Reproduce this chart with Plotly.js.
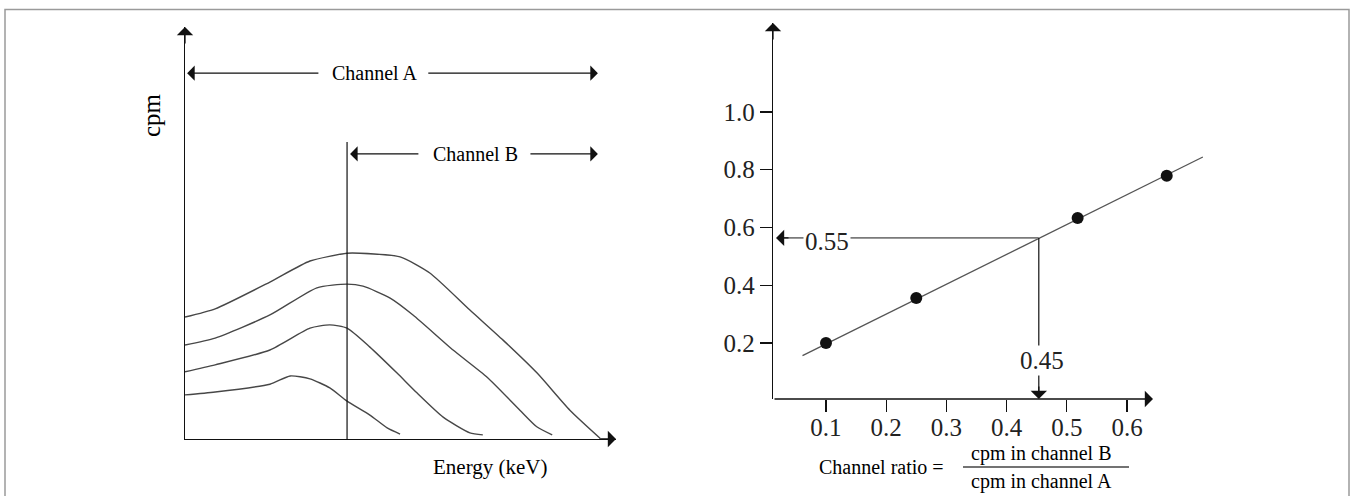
<!DOCTYPE html>
<html>
<head>
<meta charset="utf-8">
<script src="https://cdn.plot.ly/plotly-3.0.1.min.js"></script>
<style>html,body{margin:0;padding:0;background:#fff;}#chart{width:1352px;height:496px;}</style>
</head>
<body>
<div id="chart"></div>
<script>
// ---------- Left panel: energy spectra (arbitrary units 0-100) ----------
const energy1 = [0, 7.0, 19.7, 24.4, 29.0, 33.6, 37.6, 42.9, 46.9, 49.9];
const cpm1    = [10.7, 11.4, 13.3, 15.3, 14.6, 12.4, 9.2, 5.8, 2.7, 1.2];
const energy2 = [0, 7.0, 19.7, 29.0, 33.6, 37.6, 42.9, 49.2, 53.8, 59.9, 66.1, 69.1];
const cpm2    = [16.3, 18.0, 21.6, 26.9, 27.7, 26.9, 22.3, 16.0, 11.2, 5.3, 1.5, 1.0];
const energy3 = [0, 7.0, 19.7, 30.6, 37.6, 41.3, 47.6, 52.9, 62.2, 70.1, 77.7, 81.7, 85.2];
const cpm3    = [22.8, 24.5, 30.1, 36.7, 37.6, 37.1, 34.2, 30.1, 21.6, 15.0, 7.0, 2.9, 1.0];
const energy4 = [0, 7.0, 19.7, 29.0, 37.6, 40.6, 49.9, 56.8, 66.1, 73.8, 81.7, 89.3, 96.3];
const cpm4    = [29.6, 31.6, 38.1, 43.2, 45.1, 45.1, 44.2, 40.3, 31.3, 24.0, 16.0, 7.0, 0.2];
const channelAWindow = [0.5, 95.8];   // energy window of channel A
const channelBWindow = [37.6, 95.8];  // energy window of channel B (lower discriminator)
const channelLabels = ['Channel A', 'Channel B'];

// ---------- Right panel: quench correction curve ----------
const channelRatio = [0.10, 0.25, 0.518, 0.666];
const efficiency   = [0.20, 0.356, 0.633, 0.779];
const fitRatio     = [0.061, 0.726];
const fitEff       = [0.156, 0.844];
const readRatio = 0.4535, readEff = 0.564;
const readRatioLabel = '0.45', readEffLabel = '0.55';
const xTickVals = [0.1, 0.2, 0.3, 0.4, 0.5, 0.6];
const xTickText = ['0.1', '0.2', '0.3', '0.4', '0.5', '0.6'];
const yTickVals = [0.2, 0.4, 0.6, 0.8, 1.0];
const yTickText = ['0.2', '0.4', '0.6', '0.8', '1.0'];

const W = 1352, H = 496;
const px = v => v / W, py = v => 1 - v / H;
const FONT = '"Liberation Serif", "Times New Roman", serif';
const INK = '#111';
const curveStyle = {color: '#474747', width: 1.4, shape: 'spline', smoothing: 0.6};
const X2MIN = 0.012, X2ARROW = 0.6432, Y2MIN = 0.006, Y2MAX = 1.3082;

const traces = [
  {x: energy1, y: cpm1, xaxis: 'x', yaxis: 'y', mode: 'lines', line: curveStyle},
  {x: energy2, y: cpm2, xaxis: 'x', yaxis: 'y', mode: 'lines', line: curveStyle},
  {x: energy3, y: cpm3, xaxis: 'x', yaxis: 'y', mode: 'lines', line: curveStyle},
  {x: energy4, y: cpm4, xaxis: 'x', yaxis: 'y', mode: 'lines', line: curveStyle},
  // lower discriminator of channel B
  {x: [channelBWindow[0], channelBWindow[0]], y: [0, 72.1], xaxis: 'x', yaxis: 'y', mode: 'lines', line: {color: INK, width: 1.2}},
  // fitted line
  {x: fitRatio, y: fitEff, xaxis: 'x2', yaxis: 'y2', mode: 'lines', line: {color: '#555', width: 1.3}},
  // read-out lines
  {x: [0.03, readRatio], y: [readEff, readEff], xaxis: 'x2', yaxis: 'y2', mode: 'lines', line: {color: '#7a7a7a', width: 1.8}},
  {x: [readRatio, readRatio], y: [readEff, 0.03], xaxis: 'x2', yaxis: 'y2', mode: 'lines', line: {color: INK, width: 1.2}},
  // standards
  {x: channelRatio, y: efficiency, xaxis: 'x2', yaxis: 'y2', mode: 'markers', cliponaxis: false,
   marker: {color: INK, size: 12}}
];

function head(x, y, ax, ay, xref, yref) {
  return {x: x, y: y, xref: xref, yref: yref, ax: ax, ay: ay, text: '', showarrow: true,
          arrowhead: 1, arrowsize: 2.1, arrowwidth: 1.3, arrowcolor: INK, standoff: 0};
}
function seg(x0, x1, y, xref, yref, w) {
  // arrow from x1 (tail) to x0 (tip), in data coordinates
  return {x: x0, y: y, xref: xref, yref: yref, axref: xref, ayref: yref, ax: x1, ay: y, text: '',
          showarrow: true, arrowhead: 1, arrowsize: 2.1, arrowwidth: w || 1.2, arrowcolor: INK, standoff: 0};
}
function label(text, x, y, size, extra) {
  return Object.assign({x: px(x), y: py(y), xref: 'paper', yref: 'paper', text: text, showarrow: false,
          xanchor: 'center', yanchor: 'middle', font: {family: FONT, size: size, color: '#000'}}, extra || {});
}

const annotations = [
  // axis arrowheads
  head(0, 100, 0, 18, 'x', 'y'),
  head(100, 0, -18, 0, 'x', 'y'),
  head(X2MIN, Y2MAX, 0, 18, 'x2', 'y2'),
  // x axis of the right panel, drawn as an arrow so the fit line may run past it
  seg(X2ARROW, X2MIN, Y2MIN, 'x2', 'y2', 1.3),
  // channel windows
  seg(channelAWindow[0], 31.3, 88.8, 'x', 'y'),
  seg(channelAWindow[1], 56.1, 88.8, 'x', 'y'),
  seg(channelBWindow[0] + 0.7, 54.5, 69.2, 'x', 'y'),
  seg(channelBWindow[1], 79.8, 69.2, 'x', 'y'),
  {x: 44.1, y: 88.8, xref: 'x', yref: 'y', text: channelLabels[0], showarrow: false, font: {family: FONT, size: 20, color: '#000'}},
  {x: 67.3, y: 69.2, xref: 'x', yref: 'y', text: channelLabels[1], showarrow: false, font: {family: FONT, size: 20, color: '#000'}},
  // read-out arrowheads and labels
  head(0.017, readEff, 14, 0, 'x2', 'y2'),
  head(readRatio, Y2MIN, 0, -14, 'x2', 'y2'),
  {x: 0.101, y: 0.553, xref: 'x2', yref: 'y2', text: readEffLabel, showarrow: false, bgcolor: '#fff', borderpad: 1,
   font: {family: FONT, size: 25, color: '#222'}},
  {x: 0.4588, y: 0.1377, xref: 'x2', yref: 'y2', text: readRatioLabel, showarrow: false, bgcolor: '#fff', borderpad: 1,
   font: {family: FONT, size: 25, color: '#222'}},
  // axis titles
  label('cpm', 152, 115, 25, {textangle: -90}),
  label('Energy (keV)', 490, 467, 21),
  label('Channel ratio =', 881, 467, 20),
  label('cpm in channel B', 1041, 453, 20),
  label('cpm in channel A', 1041, 481, 20)
];

const noTick = {showgrid: false, zeroline: false, showticklabels: false, ticks: '', showline: true,
                linecolor: INK, linewidth: 1.3, fixedrange: true};

const layout = {
  width: W, height: H, margin: {l: 0, r: 0, t: 0, b: 0}, showlegend: false,
  paper_bgcolor: '#fff', plot_bgcolor: 'rgba(0,0,0,0)',
  xaxis: Object.assign({}, noTick, {domain: [px(185), px(616)], range: [0, 100], anchor: 'y'}),
  yaxis: Object.assign({}, noTick, {domain: [py(439), py(27)], range: [0, 100], anchor: 'x'}),
  xaxis2: {domain: [px(773), px(1215)], range: [X2MIN, (1215 - 765.8) / 602], anchor: 'y2', showgrid: false, zeroline: false,
           showline: false, ticks: 'outside', ticklen: 12, tickwidth: 1.3, tickcolor: INK, ticklabelstandoff: -6,
           tickvals: xTickVals, ticktext: xTickText, tickfont: {family: FONT, size: 25, color: '#222'}},
  yaxis2: {domain: [py(399), py(23)], range: [Y2MIN, Y2MAX], anchor: 'x2', showgrid: false, zeroline: false,
           showline: true, linecolor: INK, linewidth: 1.3, ticks: 'outside', ticklen: 12, tickwidth: 1.3, tickcolor: INK,
           tickvals: yTickVals, ticktext: yTickText, tickfont: {family: FONT, size: 25, color: '#222'}},
  shapes: [
    {type: 'rect', xref: 'paper', yref: 'paper', x0: px(5), x1: px(1349), y0: -0.05, y1: py(9.5),
     line: {color: '#9a9a9a', width: 1.5}},
    {type: 'line', xref: 'paper', yref: 'paper', x0: px(963), x1: px(1129), y0: py(467), y1: py(467),
     line: {color: '#444', width: 1.3}}
  ],
  annotations: annotations
};

Plotly.newPlot('chart', traces, layout, {staticPlot: true, displayModeBar: false});
</script>
</body>
</html>
